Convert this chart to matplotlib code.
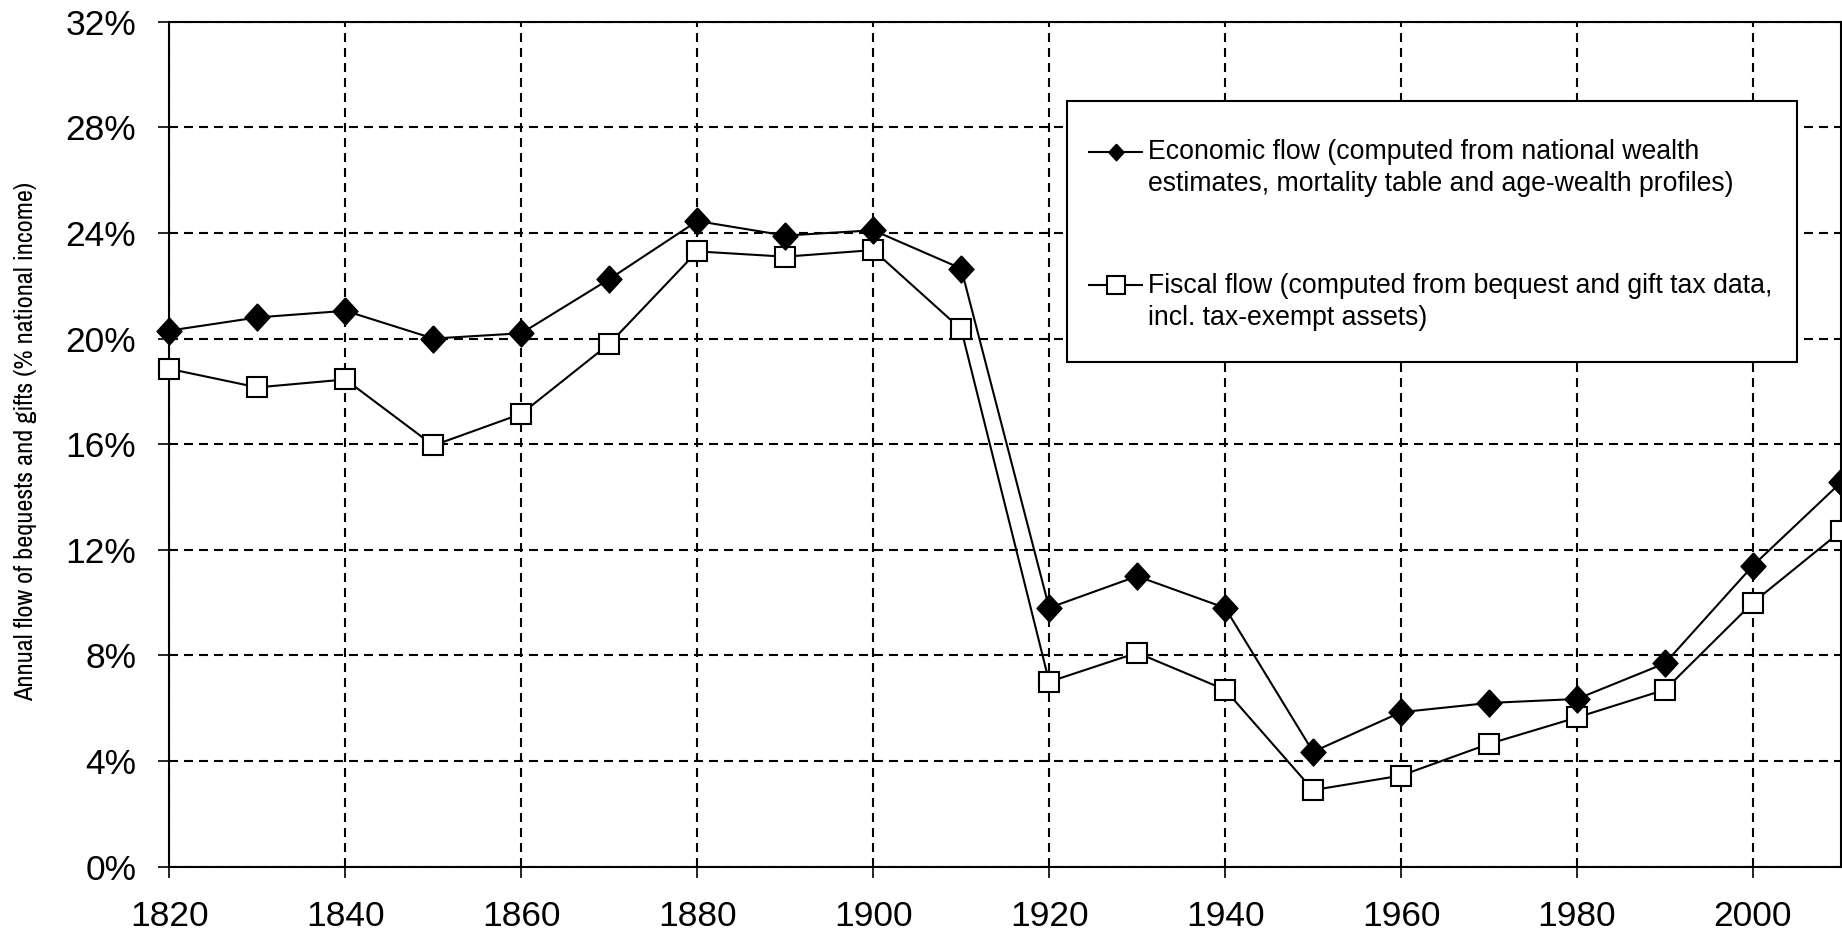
import matplotlib
matplotlib.use("Agg")
import matplotlib.pyplot as plt
from matplotlib.patches import Rectangle
from matplotlib.ticker import FuncFormatter

years = [1820, 1830, 1840, 1850, 1860, 1870, 1880, 1890, 1900, 1910,
         1920, 1930, 1940, 1950, 1960, 1970, 1980, 1990, 2000, 2010]
economic_flow = [20.3, 20.8, 21.05, 20.0, 20.2, 22.25, 24.45, 23.9, 24.1, 22.65,
                 9.8, 11.0, 9.8, 4.35, 5.85, 6.2, 6.35, 7.7, 11.4, 14.55]
fiscal_flow = [18.85, 18.15, 18.45, 15.95, 17.15, 19.8, 23.3, 23.1, 23.35, 20.35,
               7.0, 8.1, 6.7, 2.9, 3.45, 4.65, 5.65, 6.7, 10.0, 12.7]
y_ticks = [0, 4, 8, 12, 16, 20, 24, 28, 32]
x_ticks = list(range(1820, 2010, 20))

economic_label = ("Economic flow (computed from national wealth\n"
                  "estimates, mortality table and age-wealth profiles)")
fiscal_label = ("Fiscal flow (computed from bequest and gift tax data,\n"
                "incl. tax-exempt assets)")
y_label = "Annual flow of bequests and gifts (% national income)"

narrow = ['Archivo Narrow', 'Liberation Sans', 'DejaVu Sans']
plt.rcParams['font.family'] = ['Liberation Sans', 'DejaVu Sans']

fig = plt.figure(figsize=(18.42, 9.34), dpi=100)
ax = fig.add_axes([0.0920, 0.0721, 0.9074, 0.9047])

diamond = [(0, 1), (0.92, 0), (0, -1), (-0.92, 0), (0, 1)]
ax.plot(years, economic_flow, '-', color='black', lw=1.5, marker=diamond,
        markersize=19.5, markerfacecolor='black', markeredgecolor='black',
        label=economic_label, zorder=4, clip_on=False)
ax.plot(years, fiscal_flow, '-', color='black', lw=1.5, marker='s',
        markersize=15, markerfacecolor='white', markeredgecolor='black',
        markeredgewidth=1.5, label=fiscal_label, zorder=3, clip_on=False)

ax.set_xlim(1820, 2010)
ax.set_ylim(0, 32)
ax.set_xticks(x_ticks)
ax.set_yticks(y_ticks)
ax.yaxis.set_major_formatter(FuncFormatter(lambda v, _: f"{v:.0f}%"))
ax.tick_params(axis='both', direction='out', length=8, width=1.2,
               labelsize=25.5, color='black', pad=16)
ax.grid(True, color='black', lw=1.5, linestyle=(0, (4.3, 2.9)))
ax.set_axisbelow(True)
for sp in ax.spines.values():
    sp.set_linewidth(1.5)
    sp.set_color('black')

ax.set_ylabel(y_label, fontsize=19, family=narrow)
ax.yaxis.set_label_coords(-0.079, 0.503)

# legend frame drawn as its own box, entries placed inside it
ax.add_patch(Rectangle((0.537, 0.5976), 0.4367, 0.3091, transform=ax.transAxes,
                       facecolor='white', edgecolor='black', lw=1.5, zorder=5))
leg_size = 19.2
leg = ax.legend(loc='center left', bbox_to_anchor=(0.5501, 0.7474),
                prop={'size': leg_size}, handlelength=2.0, handletextpad=0.2,
                borderpad=0, labelspacing=2.83, frameon=False, borderaxespad=0)
leg.set_zorder(6)
for t in leg.get_texts():
    t.set_linespacing(1.3)
# align each handle with the first line of its two-line label
for h, ms in zip(leg.legend_handles, [12, 12.5]):
    h.set_ydata(h.get_ydata() + 0.65 * leg_size)
    h.set_markersize(ms)

fig.savefig("out.png", dpi=100)
